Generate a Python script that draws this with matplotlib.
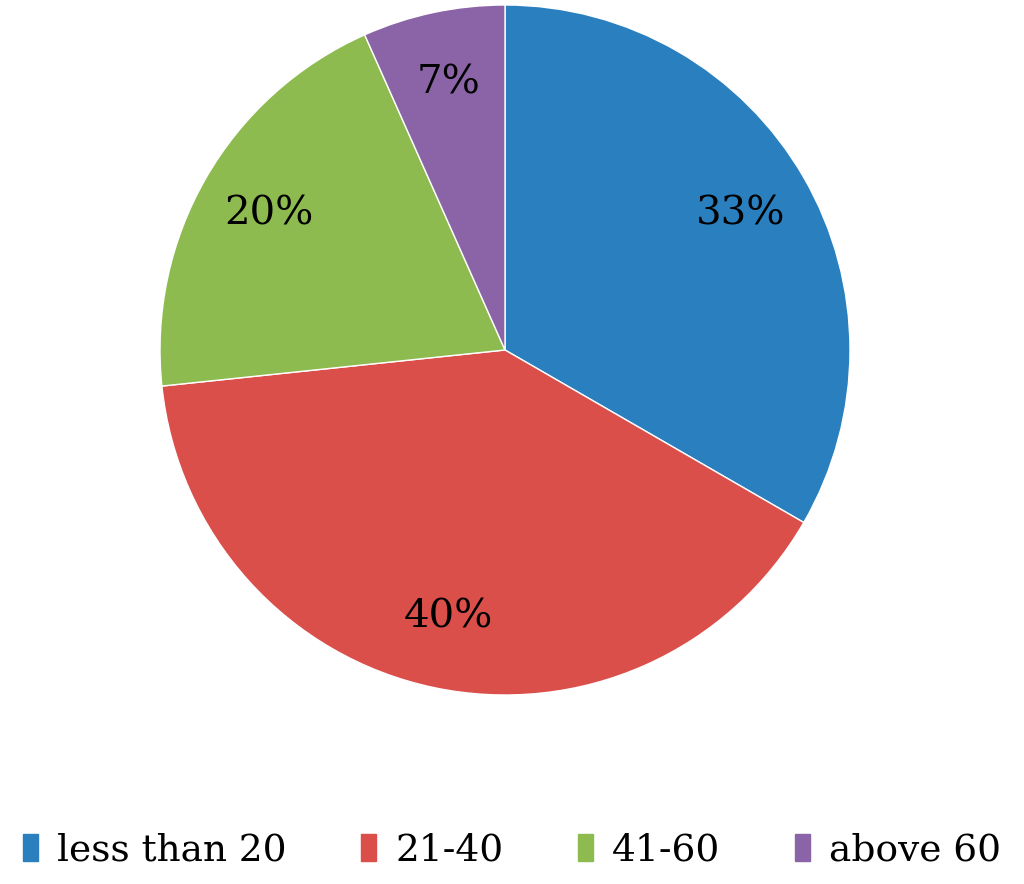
import matplotlib
matplotlib.use("Agg")
import matplotlib.pyplot as plt
from matplotlib.patches import Rectangle

# age groups and share of respondents
labels = ["less than 20", "21-40", "41-60", "above 60"]
counts = [5, 6, 3, 1]
colors = ["#2A7FBF", "#DB4F4B", "#8DBB4F", "#8A64A6"]

plt.rcParams["font.family"] = ["DejaVu Serif"]

fig = plt.figure(figsize=(10.24, 8.84), dpi=100)
ax = fig.add_axes([160 / 1024, 189 / 884, 690 / 1024, 690 / 884])

wedges, texts, autotexts = ax.pie(
    counts, colors=colors, startangle=90, counterclock=False,
    autopct=lambda p: "%d%%" % round(p), pctdistance=0.79,
    wedgeprops=dict(edgecolor="white", linewidth=1),
    textprops=dict(fontsize=29, color="black"),
)
ax.set_xlim(-1, 1)
ax.set_ylim(-1, 1)
ax.set_aspect("equal")

handles = [Rectangle((0, 0), 1, 1, color=c) for c in colors]
fig.legend(handles, labels, loc="center", bbox_to_anchor=(0.5, 0.038),
           ncol=4, frameon=False, fontsize=27, handlelength=0.4,
           handleheight=0.75, handletextpad=0.5, columnspacing=2.0)

fig.savefig("out.png", dpi=100)
